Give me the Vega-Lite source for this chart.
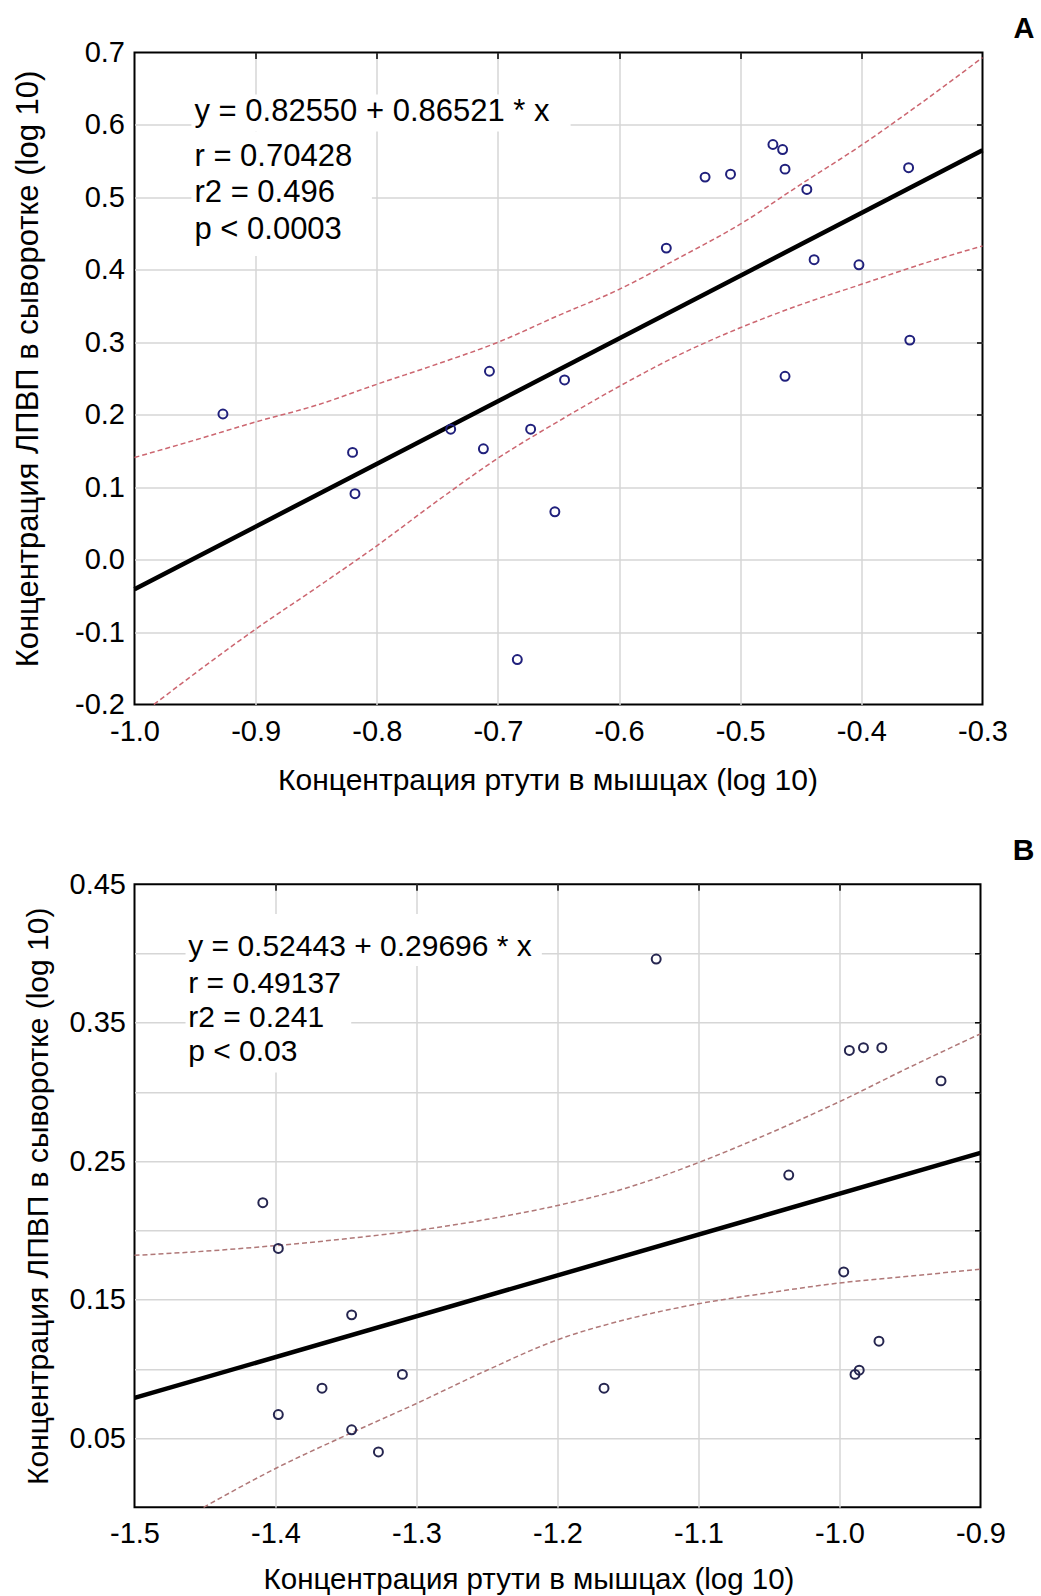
{
  "$schema": "https://vega.github.io/schema/vega-lite/v6.json",
  "padding": {"left": 10.5, "top": 13.5, "right": 0, "bottom": 0},
  "background": "white",
  "spacing": 38.8,
  "config": {
    "font": "Liberation Sans",
    "view": {"stroke": "#000", "strokeWidth": 2},
    "axis": {
      "labelFont": "Liberation Sans", "titleFont": "Liberation Sans",
      "labelColor": "#000", "titleColor": "#000", "titleFontWeight": "normal",
      "domain": false, "ticks": false, "tickSize": 0,
      "gridColor": "#d6d6d6", "gridWidth": 1.5,
      "labelFontSize": 29, "titleFontSize": 30
    }
  },
  "datasets": {
    "pointsA": [
      {"x": -0.927, "y": 0.201}, {"x": -0.820, "y": 0.148}, {"x": -0.818, "y": 0.091},
      {"x": -0.739, "y": 0.180}, {"x": -0.712, "y": 0.153}, {"x": -0.707, "y": 0.260},
      {"x": -0.684, "y": -0.138}, {"x": -0.673, "y": 0.180}, {"x": -0.653, "y": 0.066},
      {"x": -0.645, "y": 0.248}, {"x": -0.561, "y": 0.430}, {"x": -0.529, "y": 0.528},
      {"x": -0.508, "y": 0.532}, {"x": -0.473, "y": 0.573}, {"x": -0.465, "y": 0.566},
      {"x": -0.463, "y": 0.539}, {"x": -0.463, "y": 0.253}, {"x": -0.445, "y": 0.511},
      {"x": -0.439, "y": 0.414}, {"x": -0.402, "y": 0.407}, {"x": -0.361, "y": 0.541},
      {"x": -0.360, "y": 0.303}
    ],
    "fitA": [{"x": -1.0, "y": -0.041}, {"x": -0.3, "y": 0.565}],
    "upperA": [
      {"x": -1.0, "y": 0.141}, {"x": -0.95, "y": 0.165}, {"x": -0.9, "y": 0.190},
      {"x": -0.85, "y": 0.213}, {"x": -0.8, "y": 0.242}, {"x": -0.75, "y": 0.270},
      {"x": -0.7, "y": 0.300}, {"x": -0.65, "y": 0.337}, {"x": -0.6, "y": 0.373},
      {"x": -0.55, "y": 0.417}, {"x": -0.5, "y": 0.463}, {"x": -0.45, "y": 0.518},
      {"x": -0.4, "y": 0.572}, {"x": -0.35, "y": 0.631}, {"x": -0.3, "y": 0.693}
    ],
    "lowerA": [
      {"x": -0.984, "y": -0.2}, {"x": -0.95, "y": -0.157}, {"x": -0.9, "y": -0.096},
      {"x": -0.85, "y": -0.039}, {"x": -0.8, "y": 0.019}, {"x": -0.75, "y": 0.081},
      {"x": -0.7, "y": 0.140}, {"x": -0.65, "y": 0.191}, {"x": -0.6, "y": 0.239},
      {"x": -0.55, "y": 0.283}, {"x": -0.5, "y": 0.320}, {"x": -0.45, "y": 0.352},
      {"x": -0.4, "y": 0.380}, {"x": -0.35, "y": 0.408}, {"x": -0.3, "y": 0.433}
    ],
    "pointsB": [
      {"x": -1.409, "y": 0.220}, {"x": -1.398, "y": 0.187}, {"x": -1.398, "y": 0.067},
      {"x": -1.367, "y": 0.086}, {"x": -1.346, "y": 0.139}, {"x": -1.346, "y": 0.056},
      {"x": -1.327, "y": 0.040}, {"x": -1.310, "y": 0.096}, {"x": -1.167, "y": 0.086},
      {"x": -1.130, "y": 0.396}, {"x": -1.036, "y": 0.240}, {"x": -0.997, "y": 0.170},
      {"x": -0.993, "y": 0.330}, {"x": -0.989, "y": 0.096}, {"x": -0.986, "y": 0.099},
      {"x": -0.983, "y": 0.332}, {"x": -0.972, "y": 0.120}, {"x": -0.970, "y": 0.332},
      {"x": -0.928, "y": 0.308}
    ],
    "fitB": [{"x": -1.5, "y": 0.079}, {"x": -0.9, "y": 0.256}],
    "upperB": [
      {"x": -1.5, "y": 0.182}, {"x": -1.45, "y": 0.185}, {"x": -1.4, "y": 0.189},
      {"x": -1.35, "y": 0.194}, {"x": -1.3, "y": 0.200}, {"x": -1.25, "y": 0.208},
      {"x": -1.2, "y": 0.218}, {"x": -1.15, "y": 0.231}, {"x": -1.1, "y": 0.249},
      {"x": -1.05, "y": 0.270}, {"x": -1.0, "y": 0.293}, {"x": -0.95, "y": 0.318},
      {"x": -0.9, "y": 0.342}
    ],
    "lowerB": [
      {"x": -1.451, "y": 0.0}, {"x": -1.4, "y": 0.028}, {"x": -1.35, "y": 0.052},
      {"x": -1.3, "y": 0.075}, {"x": -1.25, "y": 0.099}, {"x": -1.2, "y": 0.121},
      {"x": -1.15, "y": 0.136}, {"x": -1.1, "y": 0.147}, {"x": -1.05, "y": 0.155},
      {"x": -1.0, "y": 0.162}, {"x": -0.95, "y": 0.167}, {"x": -0.9, "y": 0.172}
    ]
  },
  "vconcat": [
    {
      "width": 848,
      "height": 652,
      "title": {"text": "A", "anchor": "end", "frame": "group", "dx": 52, "offset": -5, "fontSize": 29, "fontWeight": "bold", "font": "Liberation Sans", "color": "#000"},
      "resolve": {"axis": {"x": "independent", "y": "independent"}},
      "layer": [
        {
          "data": {"values": [{}]},
          "mark": {"type": "rect", "color": "white"},
          "encoding": {
            "x": {"datum": -0.953, "type": "quantitative", "scale": {"domain": [-1.0, -0.3], "nice": false, "zero": false}, "axis": null},
            "x2": {"datum": -0.640},
            "y": {"datum": 0.642, "type": "quantitative", "scale": {"domain": [-0.2, 0.7], "nice": false, "zero": false}, "axis": null},
            "y2": {"datum": 0.591}
          }
        },
        {
          "data": {"values": [{}]},
          "mark": {"type": "rect", "color": "white"},
          "encoding": {
            "x": {"datum": -0.953, "type": "quantitative", "scale": {"domain": [-1.0, -0.3], "nice": false, "zero": false}, "axis": null},
            "x2": {"datum": -0.804},
            "y": {"datum": 0.591, "type": "quantitative", "scale": {"domain": [-0.2, 0.7], "nice": false, "zero": false}, "axis": null},
            "y2": {"datum": 0.419}
          }
        },
        {
          "data": {"name": "upperA"},
          "mark": {"type": "line", "color": "#cc6670", "strokeWidth": 1.5, "strokeDash": [5, 3], "interpolate": "monotone"},
          "encoding": {
            "x": {"field": "x", "type": "quantitative", "scale": {"domain": [-1.0, -0.3], "nice": false, "zero": false}, "axis": null},
            "y": {"field": "y", "type": "quantitative", "scale": {"domain": [-0.2, 0.7], "nice": false, "zero": false}, "axis": null}
          }
        },
        {
          "data": {"name": "lowerA"},
          "mark": {"type": "line", "color": "#cc6670", "strokeWidth": 1.5, "strokeDash": [5, 3], "interpolate": "monotone"},
          "encoding": {
            "x": {"field": "x", "type": "quantitative", "scale": {"domain": [-1.0, -0.3], "nice": false, "zero": false}, "axis": null},
            "y": {"field": "y", "type": "quantitative", "scale": {"domain": [-0.2, 0.7], "nice": false, "zero": false}, "axis": null}
          }
        },
        {
          "data": {"name": "fitA"},
          "mark": {"type": "line", "color": "#000", "strokeWidth": 4.5},
          "encoding": {
            "x": {"field": "x", "type": "quantitative", "scale": {"domain": [-1.0, -0.3], "nice": false, "zero": false},
                  "axis": {"orient": "top", "labels": false, "grid": false, "ticks": true, "tickSize": -6, "tickColor": "#000", "tickWidth": 1.5, "domain": false, "title": null, "minExtent": 0, "maxExtent": 0, "values": [-0.9, -0.8, -0.7, -0.6, -0.5, -0.4]}},
            "y": {"field": "y", "type": "quantitative", "scale": {"domain": [-0.2, 0.7], "nice": false, "zero": false},
                  "axis": {"orient": "right", "labels": false, "grid": false, "ticks": true, "tickSize": -6, "tickColor": "#000", "tickWidth": 1.5, "domain": false, "title": null, "minExtent": 0, "maxExtent": 0, "values": [-0.1, 0.0, 0.1, 0.2, 0.3, 0.4, 0.5, 0.6]}}
          }
        },
        {
          "data": {"name": "pointsA"},
          "mark": {"type": "point", "shape": "circle", "filled": false, "size": 80, "strokeWidth": 2, "color": "#20207c", "opacity": 1},
          "encoding": {
            "x": {"field": "x", "type": "quantitative", "scale": {"domain": [-1.0, -0.3], "nice": false, "zero": false},
                  "axis": {"orient": "bottom", "grid": true, "title": "Концентрация ртути в мышцах (log 10)", "values": [-1.0, -0.9, -0.8, -0.7, -0.6, -0.5, -0.4, -0.3],
                           "labelExpr": "replace(format(datum.value, '.1f'), '\u2212', '-')", "labelPadding": 13, "titlePadding": 19, "titleX": 413,
                           "labelFlush": false, "labelOverlap": false,
                           "gridOpacity": {"condition": {"test": "datum.value < -0.99 || datum.value > -0.31", "value": 0}, "value": 1}}},
            "y": {"field": "y", "type": "quantitative", "scale": {"domain": [-0.2, 0.7], "nice": false, "zero": false},
                  "axis": {"orient": "left", "grid": true, "title": "Концентрация ЛПВП в сыворотке (log 10)", "values": [-0.2, -0.1, 0.0, 0.1, 0.2, 0.3, 0.4, 0.5, 0.6, 0.7],
                           "labelExpr": "replace(format(datum.value, '.1f'), '\u2212', '-')", "labelPadding": 10, "titlePadding": 30.5, "titleY": 316, "titleFontSize": 31,
                           "labelFlush": false, "labelOverlap": false,
                           "gridOpacity": {"condition": {"test": "datum.value < -0.19 || datum.value > 0.69", "value": 0}, "value": 1}}}
          }
        },
        {
          "data": {"values": [{}]},
          "mark": {"type": "text", "text": "y = 0.82550 + 0.86521 * x", "align": "left", "baseline": "alphabetic", "fontSize": 31, "font": "Liberation Sans", "color": "#000"},
          "encoding": {
            "x": {"datum": -0.9505, "type": "quantitative", "scale": {"domain": [-1.0, -0.3], "nice": false, "zero": false}, "axis": null},
            "y": {"datum": 0.6055, "type": "quantitative", "scale": {"domain": [-0.2, 0.7], "nice": false, "zero": false}, "axis": null}
          }
        },
        {
          "data": {"values": [{}]},
          "mark": {"type": "text", "text": ["r = 0.70428", "r2 = 0.496", "p < 0.0003"], "lineHeight": 36.3, "align": "left", "baseline": "alphabetic", "fontSize": 31, "font": "Liberation Sans", "color": "#000"},
          "encoding": {
            "x": {"datum": -0.9505, "type": "quantitative", "scale": {"domain": [-1.0, -0.3], "nice": false, "zero": false}, "axis": null},
            "y": {"datum": 0.5434, "type": "quantitative", "scale": {"domain": [-0.2, 0.7], "nice": false, "zero": false}, "axis": null}
          }
        }
      ]
    },
    {
      "width": 846,
      "height": 623,
      "title": {"text": "B", "anchor": "end", "frame": "group", "dx": 54, "offset": 4, "fontSize": 30, "fontWeight": "bold", "font": "Liberation Sans", "color": "#000"},
      "resolve": {"axis": {"x": "independent", "y": "independent"}},
      "layer": [
        {
          "data": {"values": [{}]},
          "mark": {"type": "rect", "color": "white"},
          "encoding": {
            "x": {"datum": -1.4638, "type": "quantitative", "scale": {"domain": [-1.5, -0.9], "nice": false, "zero": false}, "axis": null},
            "x2": {"datum": -1.2111},
            "y": {"datum": 0.4286, "type": "quantitative", "scale": {"domain": [0, 0.45], "nice": false, "zero": false}, "axis": null},
            "y2": {"datum": 0.391}
          }
        },
        {
          "data": {"values": [{}]},
          "mark": {"type": "rect", "color": "white"},
          "encoding": {
            "x": {"datum": -1.4638, "type": "quantitative", "scale": {"domain": [-1.5, -0.9], "nice": false, "zero": false}, "axis": null},
            "x2": {"datum": -1.3463},
            "y": {"datum": 0.391, "type": "quantitative", "scale": {"domain": [0, 0.45], "nice": false, "zero": false}, "axis": null},
            "y2": {"datum": 0.314}
          }
        },
        {
          "data": {"name": "upperB"},
          "mark": {"type": "line", "color": "#b07878", "strokeWidth": 1.5, "strokeDash": [5, 3], "interpolate": "monotone"},
          "encoding": {
            "x": {"field": "x", "type": "quantitative", "scale": {"domain": [-1.5, -0.9], "nice": false, "zero": false}, "axis": null},
            "y": {"field": "y", "type": "quantitative", "scale": {"domain": [0, 0.45], "nice": false, "zero": false}, "axis": null}
          }
        },
        {
          "data": {"name": "lowerB"},
          "mark": {"type": "line", "color": "#b07878", "strokeWidth": 1.5, "strokeDash": [5, 3], "interpolate": "monotone"},
          "encoding": {
            "x": {"field": "x", "type": "quantitative", "scale": {"domain": [-1.5, -0.9], "nice": false, "zero": false}, "axis": null},
            "y": {"field": "y", "type": "quantitative", "scale": {"domain": [0, 0.45], "nice": false, "zero": false}, "axis": null}
          }
        },
        {
          "data": {"name": "fitB"},
          "mark": {"type": "line", "color": "#000", "strokeWidth": 4.5},
          "encoding": {
            "x": {"field": "x", "type": "quantitative", "scale": {"domain": [-1.5, -0.9], "nice": false, "zero": false},
                  "axis": {"orient": "top", "labels": false, "grid": false, "ticks": true, "tickSize": -6, "tickColor": "#000", "tickWidth": 1.5, "domain": false, "title": null, "minExtent": 0, "maxExtent": 0, "values": [-1.4, -1.3, -1.2, -1.1, -1.0]}},
            "y": {"field": "y", "type": "quantitative", "scale": {"domain": [0, 0.45], "nice": false, "zero": false},
                  "axis": {"orient": "right", "labels": false, "grid": false, "ticks": true, "tickSize": -6, "tickColor": "#000", "tickWidth": 1.5, "domain": false, "title": null, "minExtent": 0, "maxExtent": 0, "values": [0.05, 0.1, 0.15, 0.2, 0.25, 0.3, 0.35, 0.4]}}
          }
        },
        {
          "data": {"name": "pointsB"},
          "mark": {"type": "point", "shape": "circle", "filled": false, "size": 80, "strokeWidth": 2, "color": "#262650", "opacity": 1},
          "encoding": {
            "x": {"field": "x", "type": "quantitative", "scale": {"domain": [-1.5, -0.9], "nice": false, "zero": false},
                  "axis": {"orient": "bottom", "grid": true, "title": "Концентрация ртути в мышцах (log 10)", "values": [-1.5, -1.4, -1.3, -1.2, -1.1, -1.0, -0.9],
                           "labelExpr": "replace(format(datum.value, '.1f'), '\u2212', '-')", "labelPadding": 12, "titlePadding": 17, "titleX": 394, "titleFontSize": 29.5,
                           "labelFlush": false, "labelOverlap": false,
                           "gridOpacity": {"condition": {"test": "datum.value < -1.49 || datum.value > -0.91", "value": 0}, "value": 1}}},
            "y": {"field": "y", "type": "quantitative", "scale": {"domain": [0, 0.45], "nice": false, "zero": false},
                  "axis": {"orient": "left", "grid": true, "title": "Концентрация ЛПВП в сыворотке (log 10)", "values": [0, 0.05, 0.1, 0.15, 0.2, 0.25, 0.3, 0.35, 0.4, 0.45],
                           "labelExpr": "(round(datum.value * 100) % 10 == 5) ? format(datum.value, '.2f') : ''", "labelPadding": 9, "titlePadding": 16,
                           "labelFlush": false, "labelOverlap": false,
                           "gridOpacity": {"condition": {"test": "datum.value < 0.01 || datum.value > 0.44", "value": 0}, "value": 1}}}
          }
        },
        {
          "data": {"values": [{}]},
          "mark": {"type": "text", "text": "y = 0.52443 + 0.29696 * x", "align": "left", "baseline": "alphabetic", "fontSize": 30, "font": "Liberation Sans", "color": "#000"},
          "encoding": {
            "x": {"datum": -1.4619, "type": "quantitative", "scale": {"domain": [-1.5, -0.9], "nice": false, "zero": false}, "axis": null},
            "y": {"datum": 0.3982, "type": "quantitative", "scale": {"domain": [0, 0.45], "nice": false, "zero": false}, "axis": null}
          }
        },
        {
          "data": {"values": [{}]},
          "mark": {"type": "text", "text": ["r = 0.49137", "r2 = 0.241", "p < 0.03"], "lineHeight": 34.2, "align": "left", "baseline": "alphabetic", "fontSize": 30, "font": "Liberation Sans", "color": "#000"},
          "encoding": {
            "x": {"datum": -1.4619, "type": "quantitative", "scale": {"domain": [-1.5, -0.9], "nice": false, "zero": false}, "axis": null},
            "y": {"datum": 0.3718, "type": "quantitative", "scale": {"domain": [0, 0.45], "nice": false, "zero": false}, "axis": null}
          }
        }
      ]
    }
  ]
}
